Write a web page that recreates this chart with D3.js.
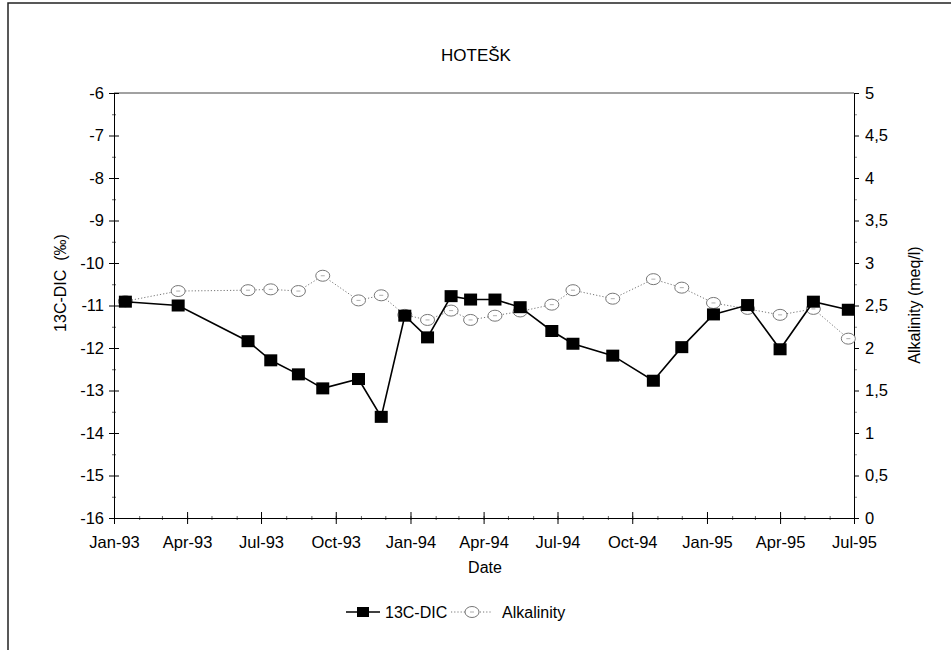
<!DOCTYPE html>
<html>
<head>
<meta charset="utf-8">
<script src="https://cdn.jsdelivr.net/npm/d3@7"></script>
<style>
  body { margin: 0; background: #fff; }
  svg { font-family: "Liberation Sans", Arial, sans-serif; }
</style>
</head>
<body>
<svg width="951" height="650"></svg>
<script>
// sample dates
var dates = ["1993-01-15","1993-03-21","1993-06-15","1993-07-13","1993-08-16","1993-09-15",
             "1993-10-29","1993-11-26","1993-12-25","1994-01-22","1994-02-20","1994-03-16",
             "1994-04-15","1994-05-16","1994-06-24","1994-07-20","1994-09-07","1994-10-27",
             "1994-12-01","1995-01-09","1995-02-20","1995-04-01","1995-05-12","1995-06-24"];
var dic = [-10.91,-11.0,-11.84,-12.29,-12.62,-12.95,-12.73,-13.62,-11.24,-11.75,-10.78,-10.86,
           -10.86,-11.04,-11.6,-11.9,-12.18,-12.77,-11.98,-11.21,-10.99,-12.03,-10.91,-11.1];
var alk = [2.55,2.67,2.68,2.69,2.67,2.85,2.56,2.62,2.39,2.33,2.44,2.33,
           2.38,2.43,2.51,2.68,2.58,2.81,2.71,2.53,2.46,2.39,2.46,2.11];
var leftTicks = [-16,-15,-14,-13,-12,-11,-10,-9,-8,-7,-6];
var rightTicks = [0,0.5,1,1.5,2,2.5,3,3.5,4,4.5,5];

var parse = d3.timeParse("%Y-%m-%d");
var pLeft = 114, pRight = 854, pTop = 93, pBottom = 518;
var tickFont = 16.5;

var xs = d3.scaleTime().domain([new Date(1993,0,1), new Date(1995,6,1)]).range([pLeft, pRight]);
var yl = d3.scaleLinear().domain([-16,-6]).range([pBottom, pTop]);
var yr = d3.scaleLinear().domain([0,5]).range([pBottom, pTop]);
var comma = function(d) { return String(d).replace(".", ","); };

var svg = d3.select("svg");

// outer frame
svg.append("path").attr("d", "M8,650V3H951").attr("fill", "none").attr("stroke", "#222").attr("stroke-width", 1.5);

svg.append("text").attr("x", 476).attr("y", 61).attr("text-anchor", "middle")
    .attr("font-size", 17).text("HOTEŠK");

// plot frame top
svg.append("line").attr("x1", pLeft).attr("x2", pRight).attr("y1", pTop).attr("y2", pTop)
    .attr("stroke", "#444").attr("stroke-width", 1);

// minor ticks
var gxm = svg.append("g").attr("transform", "translate(0," + pBottom + ")")
    .call(d3.axisBottom(xs).ticks(d3.timeMonth.every(1)).tickSize(2).tickFormat(""));
gxm.selectAll(".tick line").attr("y1", -2).attr("stroke", "#666");
gxm.select(".domain").remove();

var gylm = svg.append("g").attr("transform", "translate(" + pLeft + ",0)")
    .call(d3.axisLeft(yl).tickValues(d3.range(-15.5, -6, 1)).tickSize(2).tickFormat(""));
gylm.selectAll(".tick line").attr("x1", 2).attr("stroke", "#666");
gylm.select(".domain").remove();

var gyrm = svg.append("g").attr("transform", "translate(" + pRight + ",0)")
    .call(d3.axisRight(yr).tickValues(d3.range(0.25, 5, 0.5)).tickSize(3).tickFormat(""));
gyrm.selectAll(".tick line").attr("stroke", "#888");
gyrm.select(".domain").remove();

// bottom axis
var gx = svg.append("g").attr("transform", "translate(0," + pBottom + ")")
    .call(d3.axisBottom(xs).ticks(d3.timeMonth.every(3)).tickSize(6).tickPadding(12)
          .tickFormat(d3.timeFormat("%b-%y")));
gx.selectAll(".tick line").attr("y1", -6);
gx.select(".domain").attr("d", "M" + pLeft + ",0.5H" + pRight);
gx.selectAll("text").attr("font-size", tickFont).attr("fill", "#000");

// left axis
var gyl = svg.append("g").attr("transform", "translate(" + pLeft + ",0)")
    .call(d3.axisLeft(yl).tickValues(leftTicks).tickSize(5).tickPadding(5)
          .tickFormat(function(d) { return String(d); }));
gyl.selectAll(".tick line").attr("x1", 5);
gyl.select(".domain").attr("d", "M0.5," + pTop + "V" + pBottom);
gyl.selectAll("text").attr("font-size", tickFont).attr("fill", "#000");

// right axis
var gyr = svg.append("g").attr("transform", "translate(" + pRight + ",0)")
    .call(d3.axisRight(yr).tickValues(rightTicks).tickSize(5).tickPadding(6).tickFormat(comma));
gyr.select(".domain").attr("d", "M0.5," + pTop + "V" + pBottom);
gyr.selectAll("text").attr("font-size", tickFont).attr("fill", "#000");

// axis titles
svg.append("text").attr("transform", "translate(66,283) rotate(-90)").attr("text-anchor", "middle")
    .attr("font-size", 16).style("white-space", "pre").text("13C-DIC  (‰)");
svg.append("text").attr("transform", "translate(920,305) rotate(-90)").attr("text-anchor", "middle")
    .attr("font-size", 16).text("Alkalinity (meq/l)");
svg.append("text").attr("x", 485).attr("y", 573).attr("text-anchor", "middle")
    .attr("font-size", 16).text("Date");

var pts = dates.map(function(d, i) { return {date: parse(d), dic: dic[i], alk: alk[i]}; });

function circleMark(g) {
  g.append("ellipse").attr("rx", 7).attr("ry", 5.5).attr("fill", "#fff")
      .attr("stroke", "#777").attr("stroke-width", 1);
  g.append("line").attr("x1", -2).attr("x2", 2).attr("y1", 0).attr("y2", 0)
      .attr("stroke", "#999").attr("stroke-width", 0.8);
}

// alkalinity
svg.append("path").datum(pts)
    .attr("d", d3.line().x(function(d){ return xs(d.date); }).y(function(d){ return yr(d.alk); }))
    .attr("fill", "none").attr("stroke", "#777").attr("stroke-width", 1).attr("stroke-dasharray", "1.2,2");
svg.selectAll(".alk").data(pts).enter().append("g").attr("class", "alk")
    .attr("transform", function(d){ return "translate(" + xs(d.date) + "," + yr(d.alk) + ")"; })
    .each(function(){ circleMark(d3.select(this)); });

// 13C-DIC
svg.append("path").datum(pts)
    .attr("d", d3.line().x(function(d){ return xs(d.date); }).y(function(d){ return yl(d.dic); }))
    .attr("fill", "none").attr("stroke", "#000").attr("stroke-width", 1.6);
svg.selectAll(".dic").data(pts).enter().append("rect").attr("class", "dic")
    .attr("x", function(d){ return xs(d.date) - 6.5; })
    .attr("y", function(d){ return yl(d.dic) - 6; })
    .attr("width", 13).attr("height", 12).attr("fill", "#000");

// legend
var lg = svg.append("g").attr("transform", "translate(0,612)");
lg.append("line").attr("x1", 346).attr("x2", 380).attr("stroke", "#000").attr("stroke-width", 1.6);
lg.append("rect").attr("x", 357).attr("y", -5).attr("width", 12).attr("height", 10).attr("fill", "#000");
lg.append("text").attr("x", 385).attr("y", 6).attr("font-size", 16).text("13C-DIC");
lg.append("line").attr("x1", 451).attr("x2", 492).attr("stroke", "#777").attr("stroke-dasharray", "1.2,2");
var lc = lg.append("g").attr("transform", "translate(472,0)");
circleMark(lc);
lg.append("text").attr("x", 502).attr("y", 6).attr("font-size", 16).text("Alkalinity");
</script>
</body>
</html>
